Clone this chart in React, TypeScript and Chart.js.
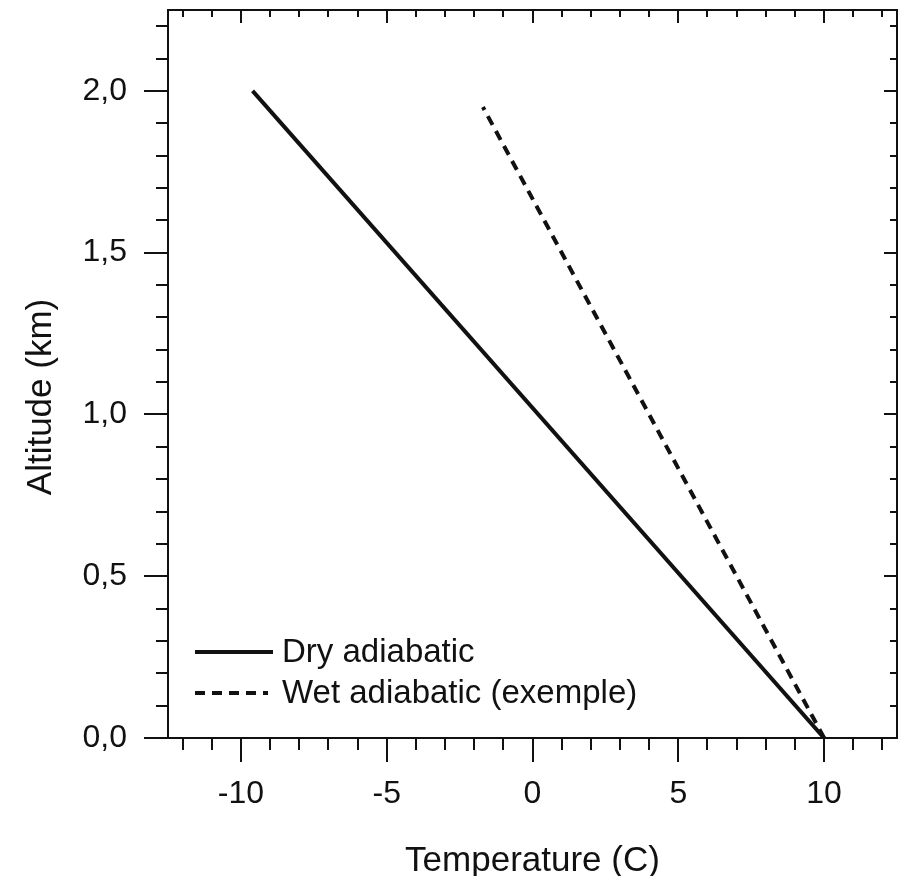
import React, { useEffect, useRef } from "react";
import { Chart, registerables } from "chart.js";

Chart.register(...registerables);

// ---- Data ----
const dryTemp = [10, -9.6];
const dryAlt = [0, 2.0];
const wetTemp = [10, -1.7];
const wetAlt = [0, 1.95];

const seriesLabels = ["Dry adiabatic", "Wet adiabatic (exemple)"];

const xMajorTicks = [-10, -5, 0, 5, 10];
const yMajorTicks = [0, 0.5, 1.0, 1.5, 2.0];
const xMinorTicks: number[] = [];
for (let v = -12; v <= 12; v += 1) xMinorTicks.push(v);
const yMinorTicks: number[] = [];
for (let i = 0; i <= 22; i += 1) yMinorTicks.push(i / 10);

const xTitle = "Temperature (C)";
const yTitle = "Altitude (km)";

const FONT = '"Liberation Sans", Arial, sans-serif';
const INK = "#111111";

const framePlugin = {
  id: "originFrame",
  afterDraw(chart: any) {
    const ctx = chart.ctx as CanvasRenderingContext2D;
    const { left, right, top, bottom } = chart.chartArea;
    const xs = chart.scales.x;
    const ys = chart.scales.y;
    ctx.save();
    ctx.strokeStyle = INK;
    ctx.lineWidth = 2;
    // ticks
    ctx.beginPath();
    xMinorTicks.forEach((v) => {
      const px = Math.round(xs.getPixelForValue(v));
      const major = xMajorTicks.includes(v);
      ctx.moveTo(px, bottom);
      ctx.lineTo(px, bottom + (major ? 24 : 12));
      ctx.moveTo(px, top);
      ctx.lineTo(px, top + (major ? 13 : 7));
    });
    yMinorTicks.forEach((v) => {
      const py = Math.round(ys.getPixelForValue(v));
      const major = yMajorTicks.some((m) => Math.abs(m - v) < 1e-9);
      ctx.moveTo(left, py);
      ctx.lineTo(left - (major ? 24 : 12), py);
      ctx.moveTo(right, py);
      ctx.lineTo(right - (major ? 13 : 7), py);
    });
    ctx.stroke();
    // frame
    ctx.strokeRect(left, top, right - left, bottom - top);

    // axis titles
    ctx.fillStyle = INK;
    ctx.font = `35px ${FONT}`;
    ctx.textAlign = "center";
    ctx.textBaseline = "alphabetic";
    ctx.fillText(xTitle, (left + right) / 2, 871);
    ctx.save();
    ctx.translate(51, 397);
    ctx.rotate(-Math.PI / 2);
    ctx.fillText(yTitle, 0, 0);
    ctx.restore();

    // legend
    ctx.font = `33px ${FONT}`;
    ctx.textAlign = "left";
    ctx.textBaseline = "middle";
    const rows = [652, 693];
    chart.data.datasets.forEach((ds: any, i: number) => {
      const y = rows[i];
      ctx.save();
      ctx.lineWidth = ds.borderWidth;
      ctx.strokeStyle = ds.borderColor;
      ctx.setLineDash(ds.borderDash || []);
      ctx.beginPath();
      ctx.moveTo(195, y);
      ctx.lineTo(i === 0 ? 273 : 268, y);
      ctx.stroke();
      ctx.restore();
      ctx.fillText(ds.label, 282, y + 1);
    });
    ctx.restore();
  },
};

export default function App() {
  const ref = useRef<HTMLCanvasElement | null>(null);
  useEffect(() => {
    document.body.style.margin = "0";
    const canvas = ref.current;
    if (!canvas) return;
    const chart = new Chart(canvas, {
      type: "scatter",
      data: {
        datasets: [
          {
            label: seriesLabels[0],
            data: dryTemp.map((t, i) => ({ x: t, y: dryAlt[i] })),
            showLine: true,
            borderColor: INK,
            backgroundColor: INK,
            borderWidth: 4,
            pointRadius: 0,
            borderDash: [],
          },
          {
            label: seriesLabels[1],
            data: wetTemp.map((t, i) => ({ x: t, y: wetAlt[i] })),
            showLine: true,
            borderColor: INK,
            backgroundColor: INK,
            borderWidth: 4,
            pointRadius: 0,
            borderDash: [10, 7],
          },
        ],
      },
      options: {
        responsive: false,
        animation: false,
        layout: { padding: { top: 10, right: 6, left: 0, bottom: 0 } },
        plugins: {
          legend: { display: false },
          tooltip: { enabled: false },
        },
        scales: {
          x: {
            type: "linear",
            min: -12.5,
            max: 12.5,
            grid: { display: false, drawTicks: false },
            border: { display: false },
            afterBuildTicks: (scale: any) => {
              scale.ticks = xMajorTicks.map((v) => ({ value: v }));
            },
            afterFit: (scale: any) => {
              scale.height = 138;
              scale.paddingLeft = 0;
              scale.paddingRight = 0;
              scale.paddingTop = 0;
              scale.paddingBottom = 0;
            },
            ticks: {
              padding: 37,
              color: INK,
              font: { family: FONT, size: 32 },
              callback: (v: any) => String(v),
            },
          },
          y: {
            type: "linear",
            min: 0,
            max: 2.25,
            grid: { display: false, drawTicks: false },
            border: { display: false },
            afterBuildTicks: (scale: any) => {
              scale.ticks = yMajorTicks.map((v) => ({ value: v }));
            },
            afterFit: (scale: any) => {
              scale.width = 168;
              scale.paddingLeft = 0;
              scale.paddingRight = 0;
              scale.paddingTop = 0;
              scale.paddingBottom = 0;
            },
            ticks: {
              padding: 41,
              color: INK,
              font: { family: FONT, size: 32 },
              callback: (v: any) => Number(v).toFixed(1).replace(".", ","),
            },
          },
        },
      },
      plugins: [framePlugin],
    });
    return () => chart.destroy();
  }, []);
  return (
    <div style={{ width: 903, height: 876, background: "#fff" }}>
      <canvas ref={ref} width={903} height={876} style={{ display: "block" }} />
    </div>
  );
}
